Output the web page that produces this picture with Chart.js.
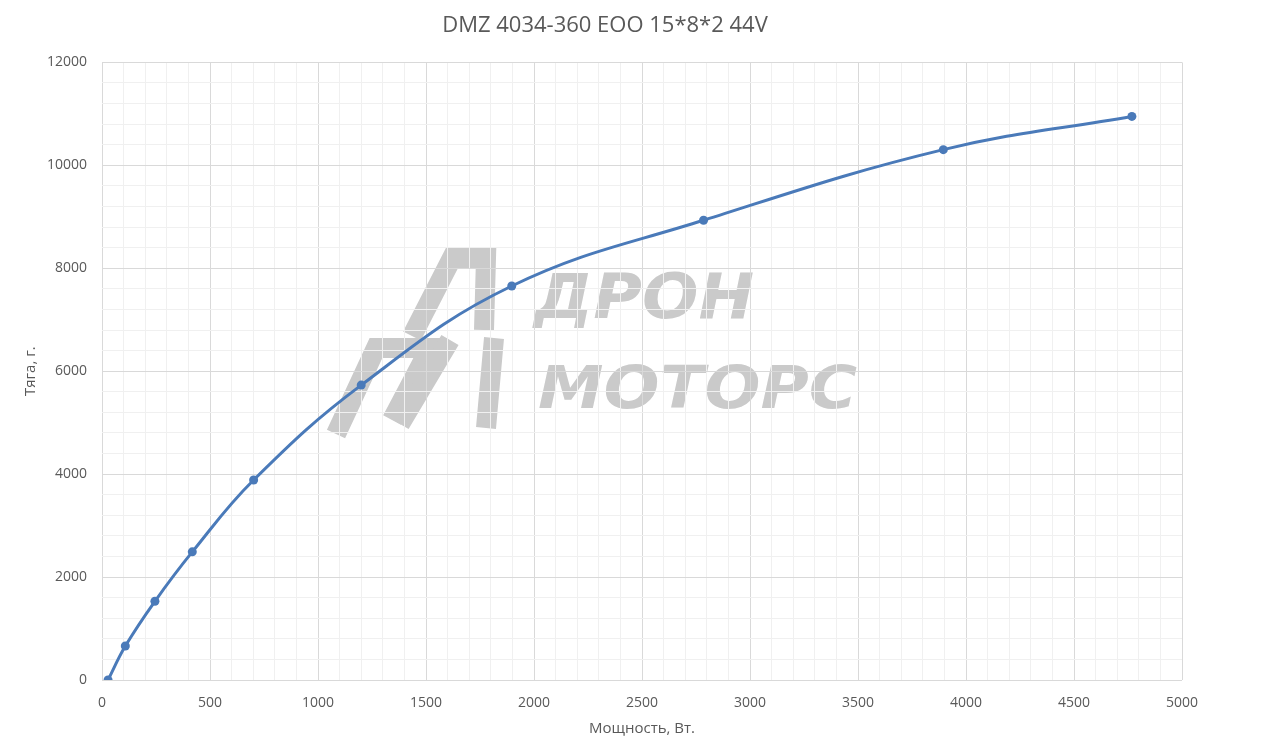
<!DOCTYPE html>
<html>
<head>
<meta charset="utf-8">
<title>DMZ 4034-360 EOO 15*8*2 44V</title>
<script src="https://cdn.jsdelivr.net/npm/chart.js@4.4.1/dist/chart.umd.min.js"></script>
<style>
  html, body { margin: 0; padding: 0; background: #fff; }
  #wrap { width: 1261px; height: 756px; position: relative; }
</style>
</head>
<body>
<div id="wrap"><canvas id="thrustChart"></canvas></div>
<script>
/************ DATA ************/
const powerW = [28, 108, 245, 418, 702, 1200, 1897, 2785, 3895, 4768];
const thrustG = [0, 660, 1530, 2490, 3887, 5730, 7655, 8932, 10305, 10950];

const xMin = 0, xMax = 5000, xMajor = 500, xMinor = 100;
const yMin = 0, yMax = 12000, yMajor = 2000, yMinor = 400;

const chartTitle = "DMZ 4034-360 EOO 15*8*2 44V";
const xTitle = "Мощность, Вт.";
const yTitle = "Тяга, г.";
const watermarkTop = "ДРОН";
const watermarkBottom = "МОТОРС";

const points = powerW.map((x, i) => ({ x: x, y: thrustG[i] }));

/************ STYLE ************/
const textGray = "#595959";
const majorGrid = "#d9d9d9";
const minorGrid = "#f0f0f0";
const lineBlue = "#4a7ab9";

/************ WATERMARK ************/
function fitText(ctx, text, x, y, w, size) {
  ctx.font = "italic bold " + size + "px 'DejaVu Sans'";
  const m = ctx.measureText(text).width;
  ctx.save();
  ctx.translate(x, y);
  ctx.scale(w / m, 1);
  ctx.fillText(text, 0, 0);
  ctx.restore();
}

const watermark = {
  id: "watermark",
  beforeDraw(chart) {
    const ctx = chart.ctx;
    ctx.save();
    ctx.fillStyle = "#cacaca";
    ctx.strokeStyle = "#cacaca";
    ctx.textBaseline = "alphabetic";
    fitText(ctx, watermarkTop, 534, 318, 220, 62);
    fitText(ctx, watermarkBottom, 538, 408, 319, 58);

    // logo
    ctx.lineCap = "butt";
    ctx.lineJoin = "miter";
    ctx.lineWidth = 20;
    ctx.beginPath();
    ctx.moveTo(412, 336); ctx.lineTo(452, 258); ctx.lineTo(486, 258); ctx.lineTo(484, 330);
    ctx.stroke();
    ctx.beginPath();
    ctx.moveTo(336, 434); ctx.lineTo(376, 348); ctx.lineTo(430, 348); ctx.lineTo(392, 420);
    ctx.stroke();
    ctx.beginPath();
    ctx.moveTo(400, 424); ctx.lineTo(450, 340);
    ctx.moveTo(494, 338); ctx.lineTo(486, 428);
    ctx.stroke();
    ctx.restore();
  },
};

/************ CHART ************/
const ctx = document.getElementById("thrustChart").getContext("2d");
const thrustChart = new Chart(ctx, {
  type: "line",
  data: {
    datasets: [
      {
        label: "Тяга",
        data: points,
        borderColor: lineBlue,
        backgroundColor: lineBlue,
        borderWidth: 3,
        pointRadius: 4.5,
        pointHoverRadius: 4.5,
        pointBorderWidth: 0,
        tension: 0.4,
        fill: false,
      },
    ],
  },
  options: {
    responsive: true,
    maintainAspectRatio: false,
    animation: false,
    layout: { padding: { left: 28, right: 79, top: 0, bottom: 0 } },
    plugins: {
      legend: { display: false },
      tooltip: { enabled: false },
      title: {
        display: true,
        text: chartTitle,
        color: textGray,
        font: { family: "'Open Sans'", size: 22, weight: "normal" },
        padding: { top: 13, bottom: 23 },
      },
    },
    scales: {
      x: {
        type: "linear",
        min: xMin,
        max: xMax,
        afterFit(scale) { scale.height = 76; },
        grid: {
          drawTicks: false,
          color: (c) => (c.tick.value % xMajor === 0 ? majorGrid : minorGrid),
          lineWidth: 1,
        },
        border: { display: false },
        ticks: {
          stepSize: xMinor,
          maxTicksLimit: 200,
          autoSkip: false,
          maxRotation: 0,
          minRotation: 0,
          padding: 15,
          color: textGray,
          font: { family: "'Open Sans'", size: 14 },
          callback: (v) => (v % xMajor === 0 ? String(v) : ""),
        },
        title: {
          display: true,
          text: xTitle,
          color: textGray,
          font: { family: "'Open Sans'", size: 15 },
          padding: { top: 0, bottom: 18 },
        },
      },
      y: {
        type: "linear",
        min: yMin,
        max: yMax,
        afterFit(scale) { scale.width = 74; },
        grid: {
          drawTicks: false,
          color: (c) => (c.tick.value % yMajor === 0 ? majorGrid : minorGrid),
          lineWidth: 1,
        },
        border: { display: false },
        ticks: {
          stepSize: yMinor,
          maxTicksLimit: 200,
          autoSkip: false,
          padding: 15,
          color: textGray,
          font: { family: "'Open Sans'", size: 14 },
          callback: (v) => (v % yMajor === 0 ? String(v) : ""),
        },
        title: {
          display: true,
          text: yTitle,
          color: textGray,
          font: { family: "'Open Sans'", size: 15 },
          padding: { top: -6, bottom: 0 },
        },
      },
    },
  },
  plugins: [watermark],
});
</script>
</body>
</html>
